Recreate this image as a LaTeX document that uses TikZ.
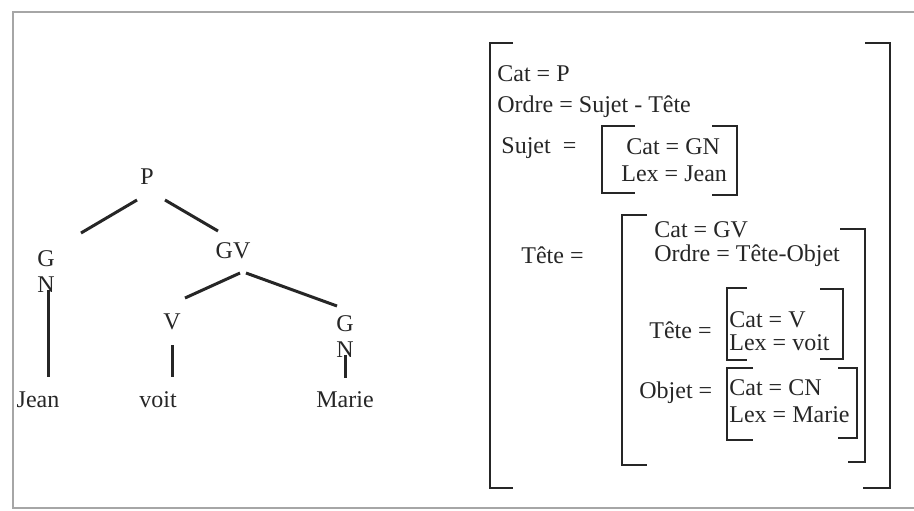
\documentclass[tikz,border=0pt]{standalone}
\usepackage{fontspec}
\setmainfont{Liberation Serif}
\usepackage{tikz}
\usetikzlibrary{calc}

\begin{document}
\begin{tikzpicture}[
    x=0.5pt, y=-0.5pt,
    label/.style={inner sep=0.5pt, text=black!85, font=\fontsize{12}{13}\selectfont},
    entry/.style={label, anchor=west},
    stack/.style={label, align=center},
    branch/.style={line width=1.5pt, black!85},
    brack/.style={line width=1pt, black!85},
    frame/.style={line width=0.7pt, gray!70}
]
\useasboundingbox (0,0) rectangle (914,510);

% --- Frame ---
\draw[frame] (914,12) -- (13,12) -- (13,508) -- (914,508);

% --- Tree: nodes ---
\node[label] (p) at (147,177) {P};
\node[stack] (gn) at (46,272) {G\\N};
\node[label] (gv) at (233,251) {GV};
\node[label] (v) at (172,322) {V};
\node[stack] (gnobj) at (345,337) {G\\N};
\node[label] (jean) at (38,400) {Jean};
\node[label] (voit) at (158,400) {voit};
\node[label] (marie) at (345,400) {Marie};

% --- Tree: branches ---
\draw[branch] ($(p)+(-10,23)$) -- ($(gn)+(35,-39)$);
\draw[branch] ($(p)+(18,23)$) -- ($(gv)+(-15,-20)$);
\draw[branch] ($(gv)+(7,22)$) -- ($(v)+(13,-24)$);
\draw[branch] ($(gv)+(13,22)$) -- ($(gnobj)+(-8,-31)$);
\draw[branch] ($(gn)+(2,18)$) -- ($(jean)+(10,-23)$);
\draw[branch] ($(v)+(0,23)$) -- ($(voit)+(14,-23)$);
\draw[branch] ($(gnobj)+(0,18)$) -- ($(marie)+(0,-22)$);

% --- Feature structure: outer level ---
\node[entry] (catp) at (496,74) {Cat = P};
\node[entry] (ordre) at (496,107) {Ordre = Sujet - Tête};
\node[entry] (sujet) at (500,148) {Sujet \ =};
\node[entry] (tete) at (520,255) {Tête =};

% --- Sujet value ---
\node[entry] (catgn) at (625,147) {Cat = GN};
\node[entry] (lexjean) at (620,174) {Lex = Jean};

% --- Tête value ---
\node[entry] (catgv) at (653,230) {Cat = GV};
\node[entry] (ordretete) at (653,256) {Ordre = Tête-Objet};
\node[entry] (tetein) at (648,330) {Tête =};
\node[entry] (catv) at (728,320) {Cat = V};
\node[entry] (lexvoit) at (728,343) {Lex = voit};
\node[entry] (objet) at (638,393) {Objet =};
\node[entry] (catcn) at (728,388) {Cat = CN};
\node[entry] (lexmarie) at (728,415) {Lex = Marie};

% --- Brackets ---
\draw[brack] (513,43) -| (490,488) -- (513,488);
\draw[brack] (865,43) -| (890,488) -- (863,488);
\draw[brack] (635,126) -| (602,193) -- (635,193);
\draw[brack] (712,126) -| (737,195) -- (712,195);
\draw[brack] (647,215) -| (622,465) -- (647,465);
\draw[brack] (840,229) -| (865,462) -- (848,462);
\draw[brack] (747,288) -| (727,360) -- (747,360);
\draw[brack] (820,289) -| (843,359) -- (820,359);
\draw[brack] (753,368) -| (727,440) -- (753,440);
\draw[brack] (838,368) -| (857,438) -- (838,438);

\end{tikzpicture}
\end{document}
